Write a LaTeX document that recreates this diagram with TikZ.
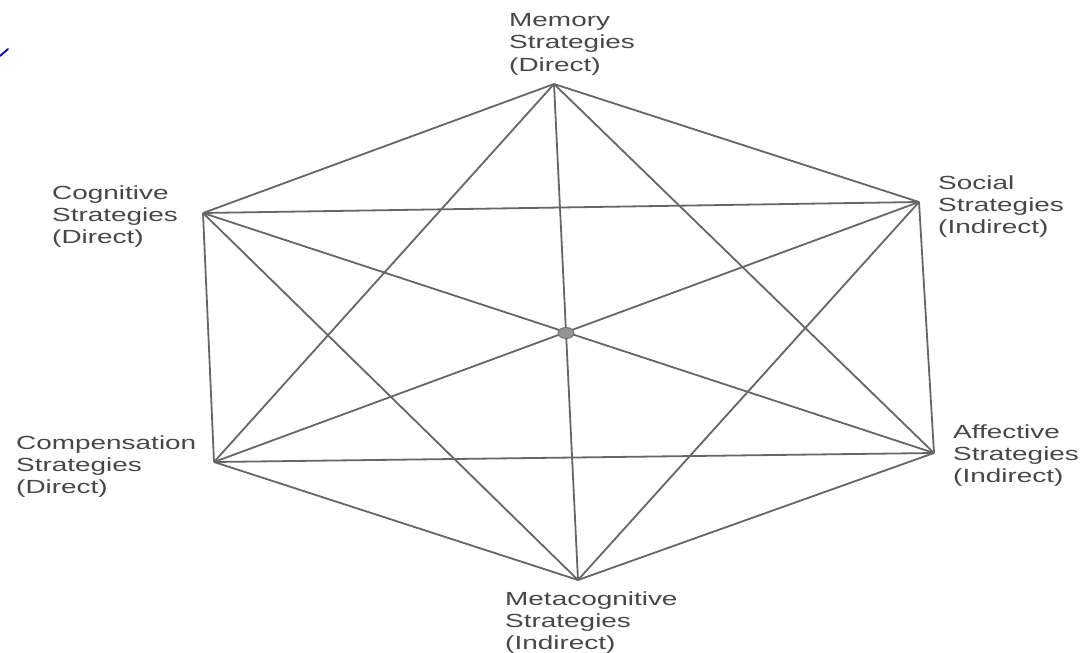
\documentclass[tikz,border=0pt]{standalone}
\usepackage{fontspec}
\usetikzlibrary{shapes.geometric}
\newfontfamily\labelfont[FakeStretch=1.47]{Liberation Sans}
\begin{document}
\begin{tikzpicture}[x=1pt,y=-1pt,
  edge/.style={draw=black!60, line width=1.8pt},
  lbl/.style={anchor=base west, inner sep=0pt, text=black!72,
    font=\labelfont\fontsize{19}{22}\selectfont},
  hub/.style={ellipse, draw=black!55, fill=black!42, line width=1pt, minimum width=16pt, minimum height=11pt, inner sep=0pt}]
\useasboundingbox (0,0) rectangle (1085,653);
\fill[white] (0,0) rectangle (1085,653);
% vertices
\coordinate (M) at (554,84);
\coordinate (S) at (919,202);
\coordinate (A) at (934,453);
\coordinate (B) at (578,580);
\coordinate (P) at (214,462);
\coordinate (C) at (203,213);
% all connections
\foreach \u/\v in {M/S,S/A,A/B,B/P,P/C,C/M,M/A,M/B,M/P,S/B,S/P,S/C,A/P,A/C,B/C}
  \draw[edge] (\u) -- (\v);
\node[hub] (hub) at (566,333) {};
% labels
\node[lbl] (lM) at (509,27) {\begin{tabular}[t]{@{}l@{}}Memory\\Strategies\\(Direct)\end{tabular}};
\node[lbl] (lC) at (52,199) {\begin{tabular}[t]{@{}l@{}}Cognitive\\Strategies\\(Direct)\end{tabular}};
\node[lbl] (lS) at (938,189) {\begin{tabular}[t]{@{}l@{}}Social\\Strategies\\(Indirect)\end{tabular}};
\node[lbl] (lP) at (16,449) {\begin{tabular}[t]{@{}l@{}}Compensation\\Strategies\\(Direct)\end{tabular}};
\node[lbl] (lA) at (953,438) {\begin{tabular}[t]{@{}l@{}}Affective\\Strategies\\(Indirect)\end{tabular}};
\node[lbl] (lB) at (505,605) {\begin{tabular}[t]{@{}l@{}}Metacognitive\\Strategies\\(Indirect)\end{tabular}};
% handwritten mark
\coordinate (m1) at (0,56);
\coordinate (m2) at (8,49);
\draw[blue!70!black, line width=1.8pt, line cap=round] (m1) -- (m2);
\end{tikzpicture}
\end{document}
